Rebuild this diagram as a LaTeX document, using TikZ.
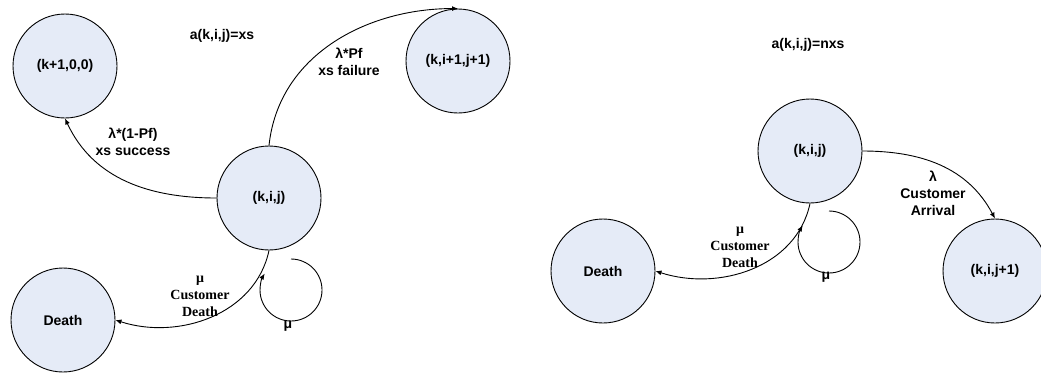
\documentclass[tikz,border=0pt]{standalone}
\usepackage{fontspec}
\setmainfont{Liberation Sans}
\newfontfamily\ratefont{Liberation Serif}
\usetikzlibrary{arrows.meta}
\definecolor{statefill}{RGB}{229,235,247}

\begin{document}
\begin{tikzpicture}[x=1pt, y=1pt, line width=0.9pt,
	every node/.style={font=\fontsize{14}{17}\selectfont\bfseries, align=center},
	state/.style={circle, draw, fill=statefill, minimum size=104pt, inner sep=0pt},
	death label/.style={font=\fontsize{14}{17}\selectfont\ratefont\bfseries},
	>={Latex[length=6pt, width=5pt]}]
	\useasboundingbox (0,0) rectangle (1041,-373);

	% a(k,i,j)=xs
	\node at (222,-36) {a(k,i,j)=xs};
	\node[state] (next) at (65,-66) {(k+1,0,0)};
	\node[state] (fail) at (458,-61) {(k,i+1,j+1)};
	\node[state] (kij) at (269,-198) {(k,i,j)};
	\node[state] (death) at (63,-320) {Death};
	\coordinate (kij loop) at (291,-259);

	\draw[->] (kij.west) to[out=180, in=-65] (next.south);
	\draw[->] (kij.north) to[out=84, in=180] (fail.north);
	\draw[->] (kij.south) to[out=-102, in=-18] (death.east);
	\draw[->] (kij loop) arc[start angle=90, end angle=-212, radius=31];

	\node at (133,-142) {λ*(1-Pf)\\xs success};
	\node at (349,-62) {λ*Pf\\xs failure};
	\node[death label] at (200,-296) {μ\\Customer\\Death};
	\node at (288,-326) {μ};

	% a(k,i,j)=nxs
	\node at (808,-45) {a(k,i,j)=nxs};
	\node[state] (rkij) at (810,-151) {(k,i,j)};
	\node[state] (arrive) at (995,-271) {(k,i,j+1)};
	\node[state] (rdeath) at (603,-271) {Death};
	\coordinate (rkij loop) at (829,-211);

	\draw[->] (rkij.east) to[out=0, in=118] (arrive.north);
	\draw[->] (rkij.south) to[out=-102, in=-18] (rdeath.east);
	\draw[->] (rkij loop) arc[start angle=90, end angle=-212, radius=31];

	\node at (933,-193) {λ\\Customer\\Arrival};
	\node[death label] at (740,-247) {μ\\Customer\\Death};
	\node at (826,-277) {μ};
\end{tikzpicture}
\end{document}
